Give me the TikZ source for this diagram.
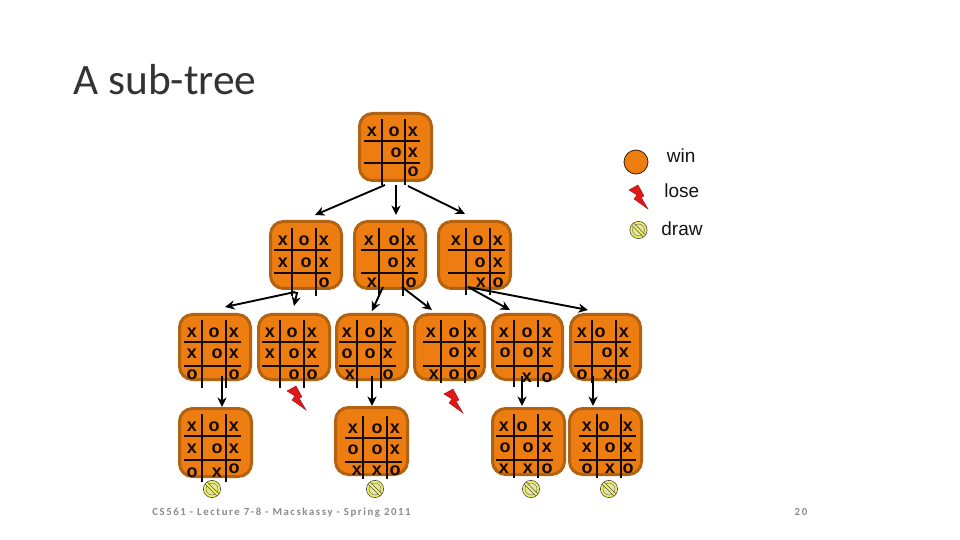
\documentclass[tikz,border=0pt]{standalone}
\usepackage{fontspec}
\usetikzlibrary{arrows.meta,fit}
\setmainfont{Liberation Sans}
\newfontfamily\titlefont{Carlito}
\newfontfamily\footfont[LetterSpace=14.5]{Carlito}
\definecolor{boardfill}{HTML}{EE7D11}
\definecolor{boardedge}{HTML}{B3620F}
\definecolor{boltred}{HTML}{E01818}
\definecolor{drawfill}{HTML}{E6E69A}
\definecolor{drawring}{HTML}{F4F45A}
\definecolor{footgray}{HTML}{8C8C8C}
\tikzset{
  x=.5pt,y=-.5pt,
  board/.style={draw=boardedge,fill=boardfill,line width=1.5pt,rounded corners=6.5pt,inner sep=-.75pt},
  grid/.style={draw=black!92!boardfill,line width=.95pt},
  cell/.style={font=\fontsize{9}{10}\selectfont\bfseries,text=black!92!boardfill,inner sep=0pt},
  conn/.style={-{Stealth[length=4.8pt,width=4.6pt]},line width=.95pt,black},
  boltshape/.style={fill=boltred,draw=boltred!70!black,line width=.2pt},
  legendtext/.style={font=\fontsize{9.5}{11}\selectfont,text=black!92,inner sep=0pt},
}
\newcommand{\boardlines}[8]{%
  \draw[grid] (#1,#3) -- (#1,#4);
  \draw[grid] (#2,#3) -- (#2,#4);
  \draw[grid] (#5,#7) -- (#6,#7);
  \draw[grid] (#5,#8) -- (#6,#8);
}
\newcommand{\cellmarks}[2]{%
  \foreach \mx/\my/\mc [count=\mi] in {#2}{\node[cell] (#1-\mi) at (\mx,\my) {\mc};}%
}
\newcommand{\boltat}[3]{%
  \begin{scope}[shift={(#2-637,#3-186)}]
    \path[boltshape] (629,190) -- (638,185) -- (644,196) -- (641,197) -- (648,209) -- (634,199) -- (637,195) -- cycle;
    \coordinate (#1) at (637,186);
  \end{scope}
}
\newcommand{\drawicon}[3]{%
  \node[circle,minimum size=8.6pt,inner sep=0pt,fill=drawring,draw=black!70,line width=.3pt] (#1) at (#2,#3) {};
  \draw[black!55,fill=drawfill,line width=.25pt] (#2,#3) circle (3pt);
  \draw[drawring,line width=1.1pt] (#2-5.5,#3-5.5) -- (#2+5.5,#3+5.5);
  \draw[black!65,line width=.25pt] (#2-5,#3-7) -- (#2+7,#3+5);
  \draw[black!65,line width=.25pt] (#2-7,#3-5) -- (#2+5,#3+7);
}
\begin{document}
\begin{tikzpicture}
\useasboundingbox (0,0) rectangle (960,540);
\fill[white] (0,0) rectangle (960,540);
\node[anchor=west,inner sep=0pt,font=\titlefont\fontsize{21.7}{25}\selectfont,text=black!80] (title) at (73,80) {A sub-tree};

% boards
\node[board,fit={(358,112)(433,182)}] (root) {};
\node[board,fit={(269,220)(343,290)}] (A) {};
\node[board,fit={(353,220)(427,290)}] (B) {};
\node[board,fit={(437,220)(512,290)}] (C) {};
\node[board,fit={(178,313)(252,381)}] (D) {};
\node[board,fit={(257,313)(331,381)}] (E) {};
\node[board,fit={(335,313)(409,381)}] (F) {};
\node[board,fit={(413,313)(486,381)}] (G) {};
\node[board,fit={(491,313)(564,381)}] (H) {};
\node[board,fit={(569,313)(642,381)}] (I) {};
\node[board,fit={(178,407)(253,478)}] (DD) {};
\node[board,fit={(334,406)(409,476)}] (FF) {};
\node[board,fit={(491,407)(566,476)}] (HH) {};
\node[board,fit={(568,407)(643,476)}] (II) {};

% grids
\boardlines{382}{405}{119}{185}{364}{420}{141}{163}
\boardlines{292}{316}{228}{296}{274}{331}{250}{273}
\boardlines{379}{403}{228}{296}{361}{418}{250}{273}
\boardlines{466}{490}{228}{295}{448}{505}{250}{273}
\boardlines{202}{226}{320}{388}{184}{241}{342}{366}
\boardlines{280}{304}{320}{388}{262}{319}{342}{366}
\boardlines{357}{381}{320}{388}{339}{396}{342}{366}
\boardlines{441}{465}{320}{383}{423}{480}{342}{366}
\boardlines{514}{538}{320}{387}{496}{553}{342}{366}
\boardlines{592}{616}{320}{383}{574}{631}{342}{366}
\boardlines{202}{226}{414}{482}{184}{241}{436}{460}
\boardlines{363}{387}{416}{479}{345}{402}{438}{462}
\boardlines{514}{538}{414}{478}{496}{553}{436}{460}
\boardlines{597}{621}{414}{478}{579}{636}{436}{460}

% marks
\cellmarks{root}{372/132/x,394/132/o,413/132/x,396/153/o,413/153/x,413/172/o}
\cellmarks{A}{283/241/x,304/241/o,324/241/x,283/263/x,306/263/o,324/263/x,324/283/o}
\cellmarks{B}{369/241/x,394/241/o,411/241/x,393/263/o,411/263/x,372/283/x,411/283/o}
\cellmarks{C}{456/241/x,478/241/o,498/241/x,480/263/o,498/263/x,481/283/x,498/283/o}
\cellmarks{D}{192/333/x,214/333/o,234/333/x,192/354/x,217/354/o,234/354/x,192/375/o,234/375/o}
\cellmarks{E}{270/333/x,292/333/o,312/333/x,270/354/x,294/354/o,312/354/x,294/375/o,312/375/o}
\cellmarks{F}{347/333/x,370/333/o,388/333/x,347/354/o,370/354/o,388/354/x,350/375/x,388/375/o}
\cellmarks{G}{431/333/x,454/333/o,472/333/x,454/353/o,472/353/x,434/375/x,454/375/o,472/375/o}
\cellmarks{H}{504/333/x,527/333/o,547/333/x,505/353/o,528/353/o,547/353/x,527/378/x,547/378/o}
\cellmarks{I}{582/333/x,600/333/o,624/333/x,607/353/o,624/353/x,582/375/o,608/375/x,624/375/o}
\cellmarks{DD}{192/427/x,214/427/o,234/427/x,192/449/x,217/449/o,234/449/x,192/473/o,217/473/x,234/469/o}
\cellmarks{FF}{353/429/x,377/429/o,395/429/x,353/450/o,377/450/o,395/450/x,357/471/x,377/471/x,395/471/o}
\cellmarks{HH}{504/427/x,522/427/o,547/427/x,505/448/o,528/448/o,547/448/x,504/469/x,528/469/x,547/469/o}
\cellmarks{II}{587/427/x,604/427/o,628/427/x,587/448/x,610/448/o,628/448/x,587/469/o,610/469/x,628/469/o}

% connectors
\draw[conn] ([shift={(-10.5,3)}]root.south) -- ([shift={(9,-5)}]A.north);
\draw[conn] ([shift={(.5,3)}]root.south) -- ([shift={(6,-5)}]B.north);
\draw[conn] ([shift={(12.5,4)}]root.south) -- ([shift={(-9.5,-6)}]C.north);
\draw[conn] ([shift={(-11,2)}]A.south) -- ([shift={(10,-6)}]D.north);
\draw[conn] ([shift={(-14,2)}]A.south) -- ([shift={(-9,3)}]A.south) -- ([shift={(0,-7)}]E.north);
\draw[conn] ([shift={(-7,-3)}]B.south) -- ([shift={(0,-2)}]F.north);
\draw[conn] ([shift={(12,-3)}]B.south) -- ([shift={(-17.5,-3)}]G.north);
\draw[conn] ([shift={(-6.5,-3)}]C.south) -- ([shift={(-17.5,-3)}]H.north);
\draw[conn] ([shift={(-6.5,-3)}]C.south) -- ([shift={(-17.5,-3)}]I.north);
\draw[conn] ([shift={(7,-5)}]D.south) -- ([shift={(6.5,0)}]DD.north);
\draw[conn] ([shift={(0,-5)}]F.south) -- ([shift={(.5,0)}]FF.north);
\draw[conn] ([shift={(-5.5,-5)}]H.south) -- ([shift={(-6.5,-1)}]HH.north);
\draw[conn] ([shift={(-12.5,-5)}]I.south) -- ([shift={(-12.5,-1)}]II.north);

% outcome icons
\boltat{boltE}{295}{387}
\boltat{boltG}{452}{390}
\drawicon{drawDD}{212}{489}
\drawicon{drawFF}{375}{489}
\drawicon{drawHH}{531}{489}
\drawicon{drawII}{609}{489}

% legend
\node[circle,minimum size=12pt,inner sep=0pt,fill=boardfill,draw=black!70!boardedge,line width=.4pt] (legwin) at (636,162) {};
\boltat{leglose}{637}{186}
\drawicon{legdraw}{638.5}{230}
\node[legendtext,anchor=west] (twin) at (666.5,156) {win};
\node[legendtext,anchor=west] (tlose) at (664,191) {lose};
\node[legendtext,anchor=west] (tdraw) at (661,229) {draw};

% footer
\node[anchor=west,inner sep=0pt,font=\footfont\fontsize{5.4}{7}\selectfont\bfseries,text=footgray] (foot) at (152,513) {CS561 - Lecture 7-8 - Macskassy - Spring 2011};
\node[anchor=center,inner sep=0pt,font=\footfont\fontsize{5.4}{7}\selectfont\bfseries,text=footgray] (page) at (801,512) {20};
\end{tikzpicture}
\end{document}
